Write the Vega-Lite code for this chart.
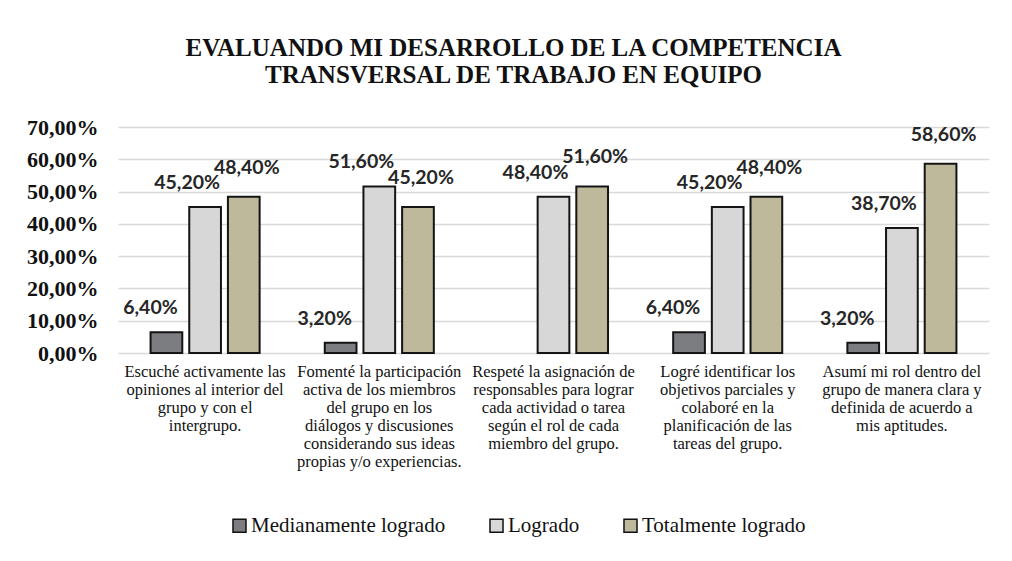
{
  "$schema": "https://vega.github.io/schema/vega-lite/v6.json",
  "width": 871,
  "height": 226,
  "autosize": {"type": "none"},
  "padding": {"left": 118, "top": 127, "right": 23, "bottom": 208},
  "background": "white",
  "title": {
    "text": ["EVALUANDO MI DESARROLLO DE LA COMPETENCIA", "TRANSVERSAL DE TRABAJO EN EQUIPO"],
    "font": "Liberation Serif",
    "fontSize": 25,
    "fontWeight": "bold",
    "lineHeight": 27,
    "color": "#111111",
    "anchor": "middle",
    "frame": "group",
    "dx": -40,
    "offset": 28
  },
  "data": {
    "values": [
      {"criterio": "Escuché activamente las\nopiniones al interior del\ngrupo y con el\nintergrupo.", "nivel": "Medianamente logrado", "valor": 0.064},
      {"criterio": "Escuché activamente las\nopiniones al interior del\ngrupo y con el\nintergrupo.", "nivel": "Logrado", "valor": 0.452},
      {"criterio": "Escuché activamente las\nopiniones al interior del\ngrupo y con el\nintergrupo.", "nivel": "Totalmente logrado", "valor": 0.484},
      {"criterio": "Fomenté la participación\nactiva de los miembros\ndel grupo en los\ndiálogos y discusiones\nconsiderando sus ideas\npropias y/o experiencias.", "nivel": "Medianamente logrado", "valor": 0.032},
      {"criterio": "Fomenté la participación\nactiva de los miembros\ndel grupo en los\ndiálogos y discusiones\nconsiderando sus ideas\npropias y/o experiencias.", "nivel": "Logrado", "valor": 0.516},
      {"criterio": "Fomenté la participación\nactiva de los miembros\ndel grupo en los\ndiálogos y discusiones\nconsiderando sus ideas\npropias y/o experiencias.", "nivel": "Totalmente logrado", "valor": 0.452},
      {"criterio": "Respeté la asignación de\nresponsables para lograr\ncada actividad o tarea\nsegún el rol de cada\nmiembro del grupo.", "nivel": "Logrado", "valor": 0.484},
      {"criterio": "Respeté la asignación de\nresponsables para lograr\ncada actividad o tarea\nsegún el rol de cada\nmiembro del grupo.", "nivel": "Totalmente logrado", "valor": 0.516},
      {"criterio": "Logré identificar los\nobjetivos parciales y\ncolaboré en la\nplanificación de las\ntareas del grupo.", "nivel": "Medianamente logrado", "valor": 0.064},
      {"criterio": "Logré identificar los\nobjetivos parciales y\ncolaboré en la\nplanificación de las\ntareas del grupo.", "nivel": "Logrado", "valor": 0.452},
      {"criterio": "Logré identificar los\nobjetivos parciales y\ncolaboré en la\nplanificación de las\ntareas del grupo.", "nivel": "Totalmente logrado", "valor": 0.484},
      {"criterio": "Asumí mi rol dentro del\ngrupo de manera clara y\ndefinida de acuerdo a\nmis aptitudes.", "nivel": "Medianamente logrado", "valor": 0.032},
      {"criterio": "Asumí mi rol dentro del\ngrupo de manera clara y\ndefinida de acuerdo a\nmis aptitudes.", "nivel": "Logrado", "valor": 0.387},
      {"criterio": "Asumí mi rol dentro del\ngrupo de manera clara y\ndefinida de acuerdo a\nmis aptitudes.", "nivel": "Totalmente logrado", "valor": 0.586}
    ]
  },
  "encoding": {
    "x": {
      "field": "criterio",
      "type": "nominal",
      "sort": null,
      "scale": {"paddingInner": 0.334, "paddingOuter": 0.167},
      "axis": {
        "title": null,
        "labelAngle": 0,
        "labelExpr": "split(datum.label, '\\n')",
        "labelFont": "Liberation Serif",
        "labelFontSize": 16.5,
        "labelLineHeight": 18,
        "labelColor": "#111111",
        "labelLimit": 0,
        "labelPadding": 10,
        "labelBaseline": "top",
        "ticks": false,
        "domain": false
      }
    },
    "xOffset": {
      "field": "nivel",
      "type": "nominal",
      "sort": ["Medianamente logrado", "Logrado", "Totalmente logrado"],
      "scale": {"domain": ["Medianamente logrado", "Logrado", "Totalmente logrado"], "paddingInner": 0.18, "paddingOuter": 0.09}
    },
    "y": {
      "field": "valor",
      "type": "quantitative",
      "scale": {"domain": [0, 0.7]},
      "axis": {
        "title": null,
        "values": [0, 0.1, 0.2, 0.3, 0.4, 0.5, 0.6, 0.7],
        "format": ".2%",
        "labelFont": "Liberation Serif",
        "labelFontSize": 22,
        "labelFontWeight": "bold",
        "labelColor": "#111111",
        "labelPadding": 20,
        "ticks": false,
        "domain": false,
        "grid": true,
        "gridColor": "#d9d9d9",
        "gridWidth": 1.5
      }
    }
  },
  "layer": [
    {
      "mark": {"type": "bar", "stroke": "#141414", "strokeWidth": 2},
      "encoding": {
        "color": {
          "field": "nivel",
          "type": "nominal",
          "sort": ["Medianamente logrado", "Logrado", "Totalmente logrado"],
          "scale": {"domain": ["Medianamente logrado", "Logrado", "Totalmente logrado"], "range": ["#7c7d81", "#d7d7d7", "#bfb99b"]},
          "legend": {
            "title": null,
            "orient": "none",
            "legendX": 111,
            "legendY": 388,
            "direction": "horizontal",
            "symbolType": "square",
            "symbolSize": 170,
            "symbolStrokeColor": "#111111",
            "symbolStrokeWidth": 1.5,
            "symbolOpacity": 1,
            "labelFont": "Liberation Serif",
            "labelFontSize": 21,
            "labelColor": "#111111",
            "labelOffset": 1,
            "columnPadding": 40,
            "labelLimit": 0
          }
        }
      }
    },
    {
      "transform": [{"filter": "datum.nivel === 'Medianamente logrado'"}],
      "mark": {"type": "text", "font": "Lato", "fontWeight": "bold", "fontSize": 19.5, "color": "#262626", "baseline": "alphabetic", "dx": -16, "dy": -18},
      "encoding": {"text": {"field": "valor", "type": "quantitative", "format": ".2%"}}
    },
    {
      "transform": [{"filter": "datum.nivel === 'Logrado'"}],
      "mark": {"type": "text", "font": "Lato", "fontWeight": "bold", "fontSize": 19.5, "color": "#262626", "baseline": "alphabetic", "dx": -18, "dy": -18},
      "encoding": {"text": {"field": "valor", "type": "quantitative", "format": ".2%"}}
    },
    {
      "transform": [{"filter": "datum.nivel === 'Totalmente logrado'"}],
      "mark": {"type": "text", "font": "Lato", "fontWeight": "bold", "fontSize": 19.5, "color": "#262626", "baseline": "alphabetic", "dx": 3, "dy": -23},
      "encoding": {"text": {"field": "valor", "type": "quantitative", "format": ".2%"}}
    }
  ],
  "config": {
    "locale": {"number": {"decimal": ",", "thousands": ".", "grouping": [3], "currency": ["", " €"]}},
    "view": {"stroke": null}
  }
}
